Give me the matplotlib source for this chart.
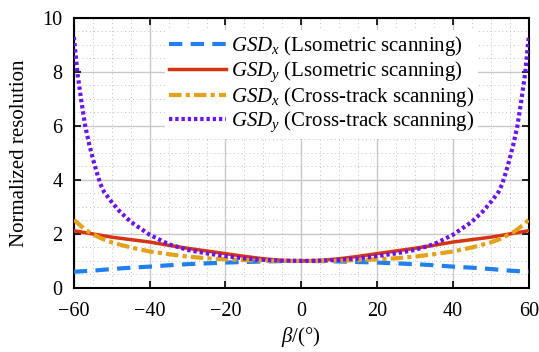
import matplotlib
matplotlib.use("Agg")
import matplotlib.pyplot as plt
from matplotlib.ticker import MultipleLocator

plt.rcParams['font.family'] = ['Liberation Serif', 'DejaVu Serif']
plt.rcParams['mathtext.fontset'] = 'custom'
plt.rcParams['mathtext.rm'] = 'Liberation Serif'
plt.rcParams['mathtext.it'] = 'Liberation Serif:italic'
plt.rcParams['mathtext.bf'] = 'Liberation Serif:bold'

# Data
beta_coarse = [-60, -55, -50, -45, -40, -35, -30, -25, -20, -15, -10, -5, 0,
               5, 10, 15, 20, 25, 30, 35, 40, 45, 50, 55, 60]
gsdx_iso = [0.60, 0.64, 0.70, 0.75, 0.79, 0.84, 0.88, 0.91, 0.94, 0.96, 0.98, 0.995, 1.0,
            0.995, 0.98, 0.96, 0.94, 0.91, 0.88, 0.84, 0.79, 0.75, 0.70, 0.64, 0.60]
gsdy_iso = [2.12, 2.00, 1.88, 1.79, 1.70, 1.58, 1.47, 1.37, 1.27, 1.17, 1.08, 1.02, 1.0,
            1.02, 1.08, 1.17, 1.27, 1.37, 1.47, 1.58, 1.70, 1.79, 1.88, 2.00, 2.12]

beta_fine = [-60, -59, -58, -57, -56, -55, -54, -53, -52, -50, -48, -45, -40, -35, -30,
             -25, -20, -15, -10, -5, 0, 5, 10, 15, 20, 25, 30, 35, 40, 45, 48, 50,
             52, 53, 54, 55, 56, 57, 58, 59, 60]
gsdx_ct = [2.52, 2.40, 2.28, 2.17, 2.07, 2.00, 1.92, 1.85, 1.79, 1.69, 1.61, 1.50, 1.35,
           1.25, 1.16, 1.10, 1.06, 1.03, 1.01, 1.00, 1.00, 1.00, 1.01, 1.03, 1.06, 1.10,
           1.16, 1.25, 1.35, 1.50, 1.61, 1.69, 1.79, 1.85, 1.92, 2.00, 2.07, 2.17, 2.28,
           2.40, 2.52]
gsdy_ct = [9.30, 7.90, 6.90, 6.00, 5.35, 4.80, 4.30, 3.85, 3.55, 3.18, 2.85, 2.45, 1.97,
           1.62, 1.41, 1.28, 1.18, 1.09, 1.04, 1.01, 1.00, 1.01, 1.04, 1.09, 1.18, 1.28,
           1.41, 1.62, 1.97, 2.45, 2.85, 3.18, 3.55, 3.85, 4.30, 4.80, 5.35, 6.00, 6.90,
           7.90, 9.30]

labels = [r"$GSD_x$ (Lsometric scanning)",
          r"$GSD_y$ (Lsometric scanning)",
          r"$GSD_x$ (Cross-track scanning)",
          r"$GSD_y$ (Cross-track scanning)"]
xticks = [-60, -40, -20, 0, 20, 40, 60]
yticks = [0, 2, 4, 6, 8, 10]

fig = plt.figure(figsize=(5.39, 3.52), dpi=100)
ax = fig.add_axes([0.137, 0.182, 0.844, 0.767])

ax.plot(beta_coarse, gsdx_iso, color='#2080ee', lw=3.0, dashes=(3.2, 2.0), label=labels[0], zorder=3)
ax.plot(beta_coarse, gsdy_iso, color='#d63412', lw=2.5, ls='-', label=labels[1], zorder=3)
ax.plot(beta_fine, gsdx_ct, color='#e3a11c', lw=3.0, dashes=(3.0, 1.0, 1.0, 1.0), label=labels[2], zorder=3)
ax.plot(beta_fine, gsdy_ct, color='#6a14ee', lw=3.0, dashes=(0.8, 0.7), label=labels[3], zorder=4)

ax.set_xlim(-60, 60)
ax.set_ylim(0, 10)
ax.set_xticks(xticks)
ax.set_yticks(yticks)
ax.xaxis.set_minor_locator(MultipleLocator(5))
ax.yaxis.set_minor_locator(MultipleLocator(0.5))
ax.grid(which='major', color='#c8c8c8', lw=1.0, ls='-')
ax.grid(which='minor', color='#c0c0c0', lw=0.7, ls=(0, (1, 3)))
ax.set_axisbelow(True)
ax.tick_params(which='major', direction='in', top=True, right=True, length=5, width=1.2,
               labelsize=14.5)
ax.tick_params(axis='x', which='major', pad=10)
ax.tick_params(axis='y', which='major', pad=8)
ax.tick_params(which='minor', length=0)
for s in ax.spines.values():
    s.set_linewidth(1.5)

ax.set_xlabel(r"$\beta$/(°)", fontsize=15, labelpad=3)
ax.set_ylabel("Normalized resolution", fontsize=15, labelpad=10)

leg = ax.legend(loc='upper center', bbox_to_anchor=(0.545, 0.955), frameon=True, fontsize=15,
                handlelength=2.7, handletextpad=0.25, labelspacing=0.05, borderpad=0.2,
                borderaxespad=0.0)
leg.get_frame().set_edgecolor('none')
leg.get_frame().set_facecolor('white')
leg.get_frame().set_alpha(1.0)

fig.savefig("out.png", dpi=100)
